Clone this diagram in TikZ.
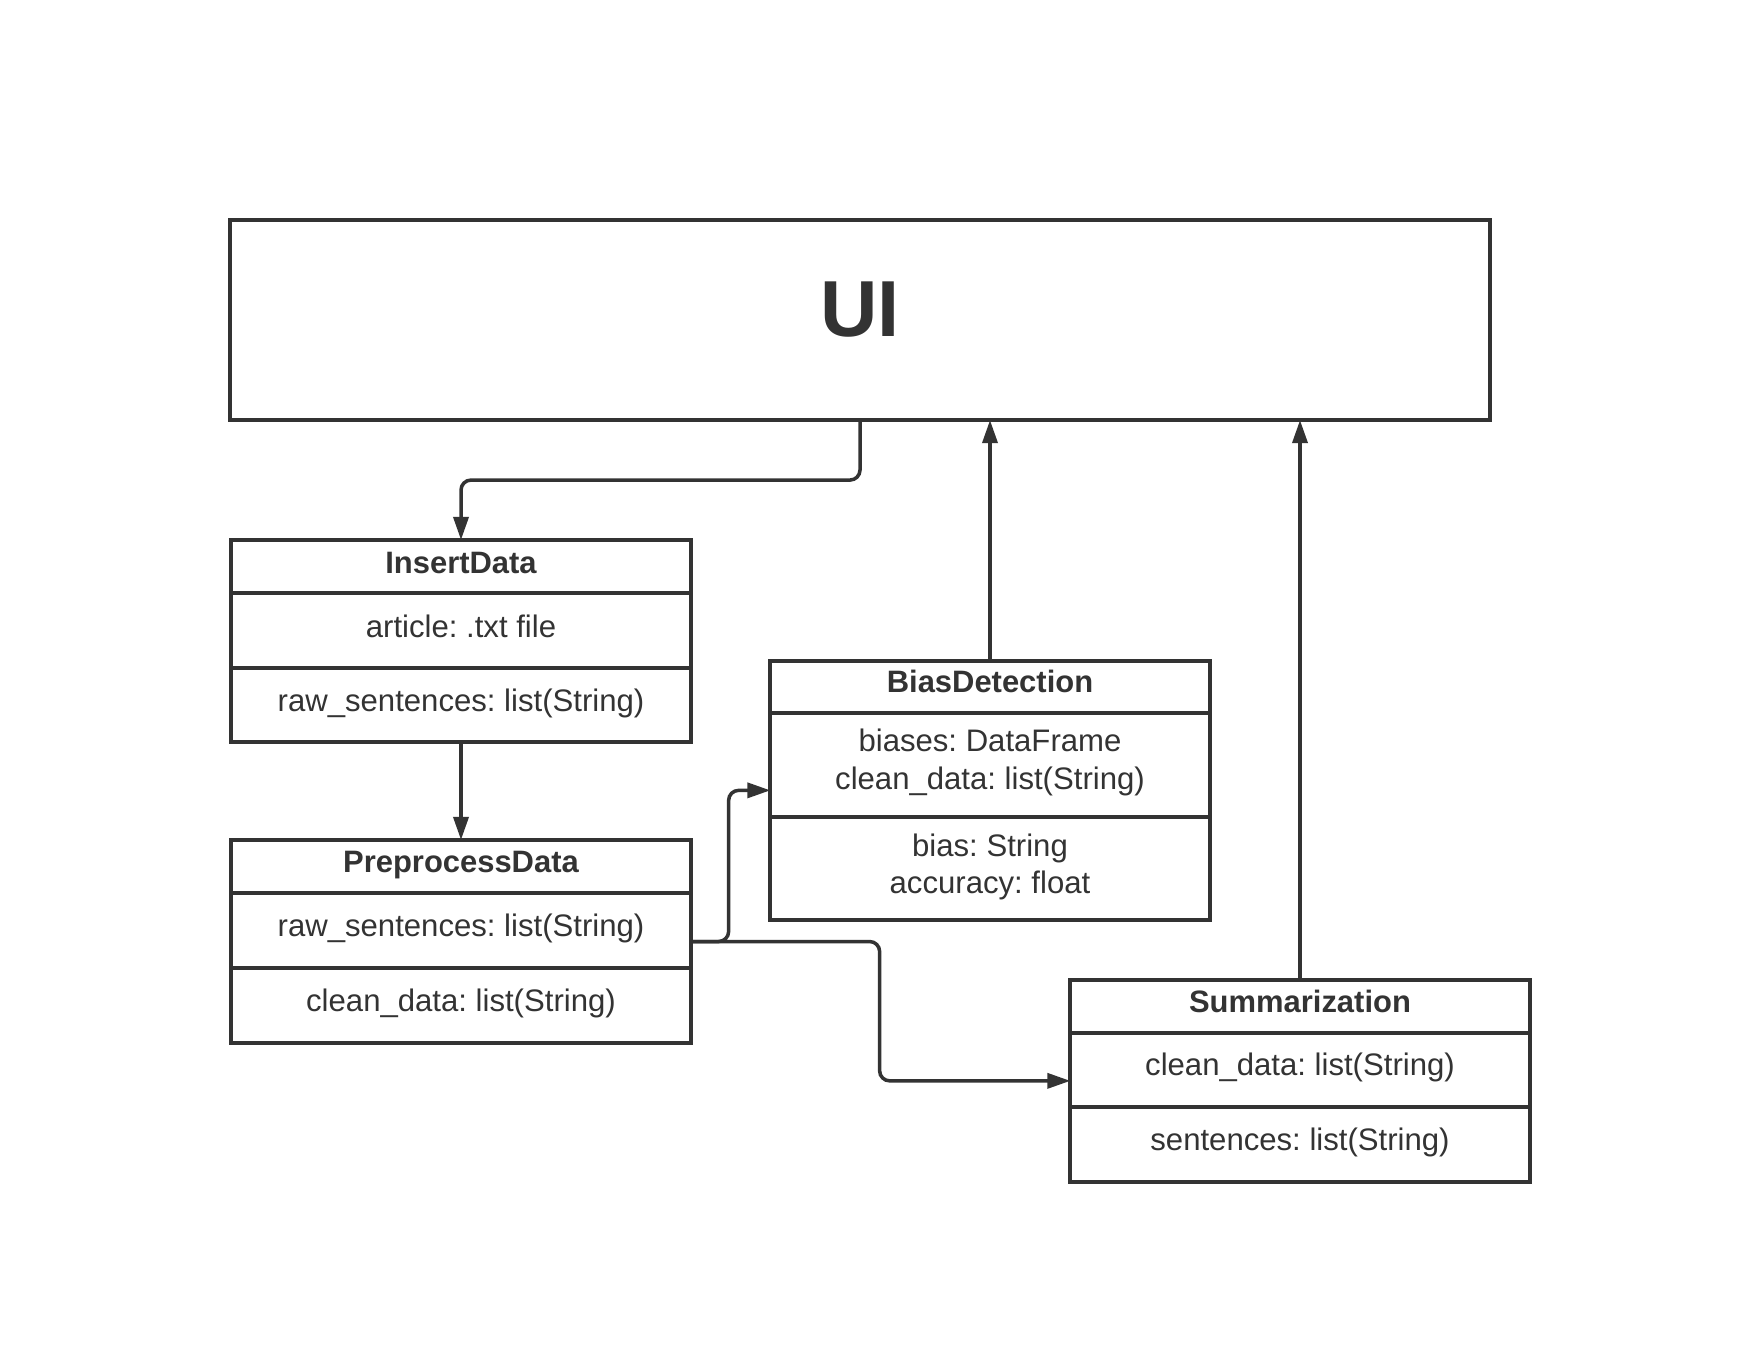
\documentclass[tikz,border=0pt]{standalone}
\usepackage{fontspec}
\setmainfont{Liberation Sans}
\usetikzlibrary{arrows.meta}
\definecolor{ink}{HTML}{333333}
\frenchspacing
\begin{document}
\frenchspacing
\begin{tikzpicture}[x=0.01cm,y=-0.01cm,
  box/.style={draw=ink, line width=0.04cm, inner sep=0pt, outer sep=0pt},
  txt/.style={text=ink, inner sep=0pt, anchor=base, font=\fontsize{8.85}{10.5}\selectfont},
  ttl/.style={text=ink, inner sep=0pt, anchor=base, font=\fontsize{8.8}{10.5}\selectfont\bfseries},
  conn/.style={draw=ink, line width=0.035cm, -{Triangle[length=0.23cm,width=0.15cm]}, rounded corners=0.1cm}]
\useasboundingbox (0,0) rectangle (1760,1360);
\fill[white] (0,0) rectangle (1760,1360);

% UI
\node[box, minimum width=12.60cm, minimum height=2.00cm] (ui) at (860,320) {};
\node[text=ink, inner sep=0pt, anchor=base, font=\fontsize{22.6}{27}\selectfont\bfseries] (uit) at (860,336.7) {UI};

% InsertData
\node[box, minimum width=4.59cm, minimum height=2.02cm] (id) at (461,641) {};
\node[box, minimum width=4.59cm, minimum height=0.53cm] (idT) at (461,566.5) {};
\node[box, minimum width=4.59cm, minimum height=0.75cm] (idA) at (461,630.5) {};
\node[box, minimum width=4.59cm, minimum height=0.74cm] (idO) at (461,705) {};
\node[ttl] (idTt) at (461,573) {InsertData};
\node[txt] (idAt) at (461,637) {article: .txt file};
\node[txt] (idOt) at (461,711) {raw\_sentences: list(String)};

% PreprocessData
\node[box, minimum width=4.59cm, minimum height=2.03cm] (pp) at (461,941.5) {};
\node[box, minimum width=4.59cm, minimum height=0.53cm] (ppT) at (461,866.5) {};
\node[box, minimum width=4.59cm, minimum height=0.75cm] (ppA) at (461,930.5) {};
\node[box, minimum width=4.59cm, minimum height=0.75cm] (ppO) at (461,1005.5) {};
\node[ttl] (ppTt) at (461,872.5) {PreprocessData};
\node[txt] (ppAt) at (461,936.5) {raw\_sentences: list(String)};
\node[txt] (ppOt) at (461,1011.5) {clean\_data: list(String)};

% BiasDetection
\node[box, minimum width=4.39cm, minimum height=2.593cm] (bd) at (990,790.35) {};
\node[box, minimum width=4.39cm, minimum height=0.52cm] (bdT) at (990,686.7) {};
\node[box, minimum width=4.39cm, minimum height=1.04cm] (bdA) at (990,764.7) {};
\node[box, minimum width=4.39cm, minimum height=1.033cm] (bdO) at (990,868.35) {};
\node[ttl] (bdTt) at (990,692.7) {BiasDetection};
\node[txt] (bdA1) at (990,751.7) {biases: DataFrame};
\node[txt] (bdA2) at (990,789) {clean\_data: list(String)};
\node[txt] (bdO1) at (990,856.7) {bias: String};
\node[txt] (bdO2) at (990,893.3) {accuracy: float};

% Summarization
\node[box, minimum width=4.59cm, minimum height=2.017cm] (su) at (1300,1080.85) {};
\node[box, minimum width=4.59cm, minimum height=0.527cm] (suT) at (1300,1006.35) {};
\node[box, minimum width=4.59cm, minimum height=0.743cm] (suA) at (1300,1069.85) {};
\node[box, minimum width=4.59cm, minimum height=0.747cm] (suO) at (1300,1144.35) {};
\node[ttl] (suTt) at (1300,1012.7) {Summarization};
\node[txt] (suAt) at (1300,1075) {clean\_data: list(String)};
\node[txt] (suOt) at (1300,1150) {sentences: list(String)};

% connectors
\draw[conn] (ui.south) -- ++(0,60) -| (id.north);
\draw[conn] (id.south) -- (pp.north);
\draw[conn] (pp.east) -- ++(38,0) |- (bd.west);
\draw[conn] (pp.east) -- ++(189,0) |- (su.west);
\draw[conn] (bd.north) -- (bd.north |- ui.south);
\draw[conn] (su.north) -- (su.north |- ui.south);
\end{tikzpicture}
\end{document}
